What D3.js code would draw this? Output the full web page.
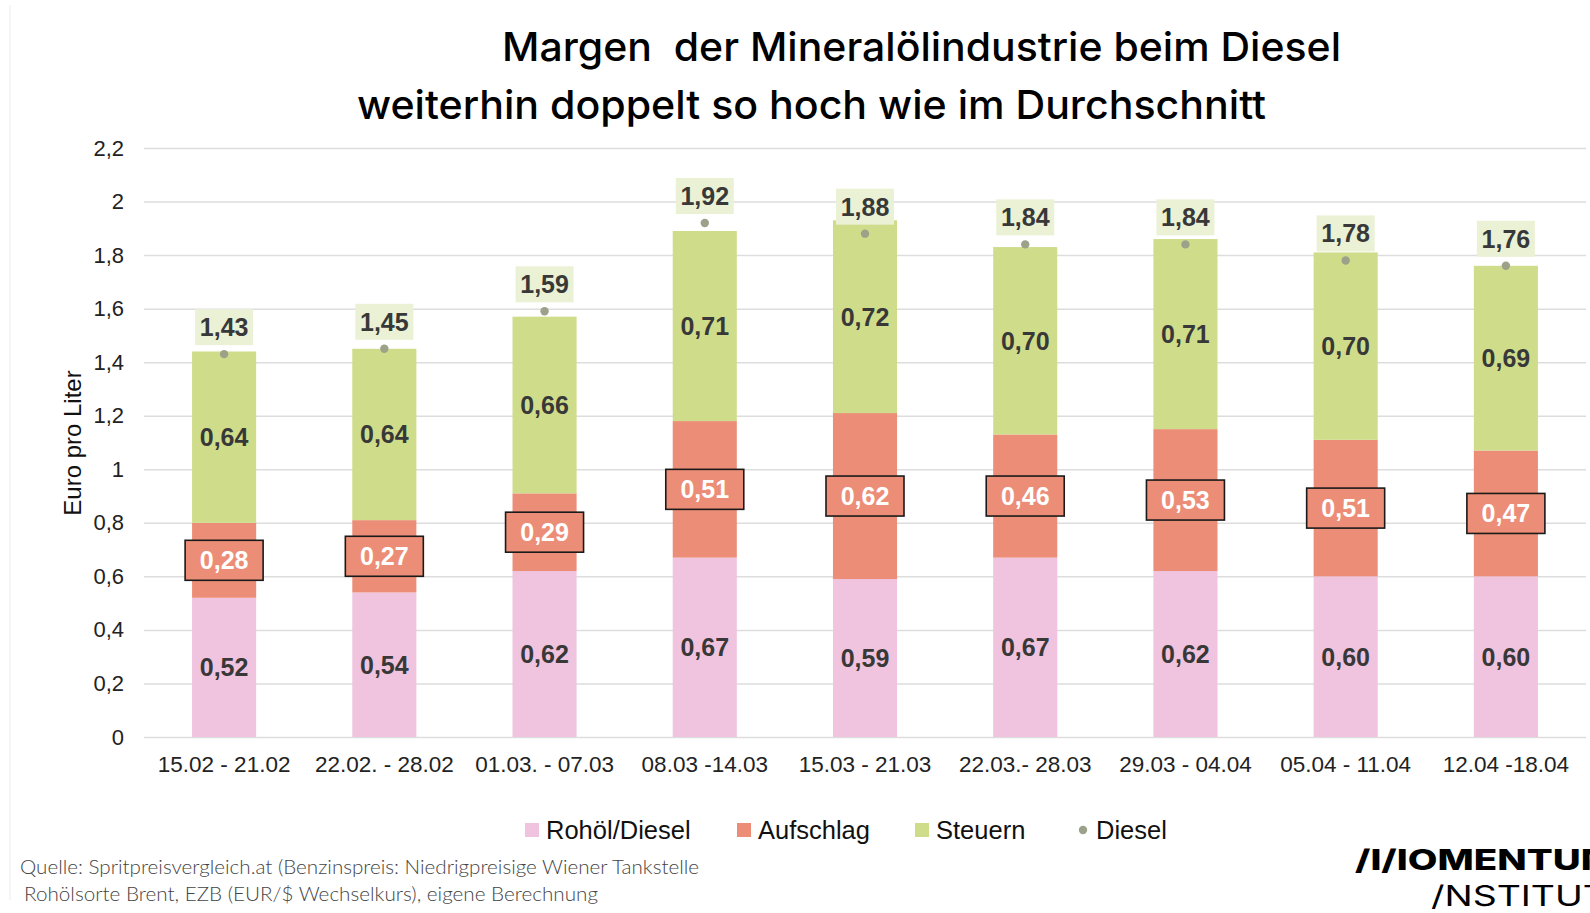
<!DOCTYPE html>
<html>
<head>
<meta charset="utf-8">
<script src="https://cdn.jsdelivr.net/npm/d3@7"></script>
<style>
  body { margin: 0; background: #fff; }
  svg { display: block; }
</style>
</head>
<body>
<div id="chart"></div>
<script>
// Daten
const weeks = ["15.02 - 21.02", "22.02. - 28.02", "01.03. - 07.03", "08.03 -14.03", "15.03 - 21.03",
               "22.03.- 28.03", "29.03 - 04.04", "05.04 - 11.04", "12.04 -18.04"];
const rohoel = [0.52, 0.54, 0.62, 0.67, 0.59, 0.67, 0.62, 0.60, 0.60];
const aufschlag = [0.28, 0.27, 0.29, 0.51, 0.62, 0.46, 0.53, 0.51, 0.47];
const steuern = [0.64, 0.64, 0.66, 0.71, 0.72, 0.70, 0.71, 0.70, 0.69];
const diesel = [1.43, 1.45, 1.59, 1.92, 1.88, 1.84, 1.84, 1.78, 1.76];
const yTicks = [0, 0.2, 0.4, 0.6, 0.8, 1, 1.2, 1.4, 1.6, 1.8, 2, 2.2];
const seriesNames = ["Rohöl/Diesel", "Aufschlag", "Steuern", "Diesel"];

const width = 1590;
const height = 913;

const colors = {
  "Rohöl/Diesel": "#f0c3de",
  "Aufschlag": "#ec8e77",
  "Steuern": "#cfdd8b",
  "Diesel": "#9ca28a"
};

const de = d3.formatLocale({ decimal: ",", thousands: ".", grouping: [3], currency: ["", "€"] });
const fmtTick = de.format(".2~f");
const fmtVal = de.format(".2f");

const svg = d3.select("#chart").append("svg")
  .attr("width", width)
  .attr("height", height);

// dünne Linie am linken Rand
svg.append("line")
  .attr("x1", 10).attr("x2", 10).attr("y1", 5).attr("y2", 900)
  .attr("stroke", "#f2f2f2").attr("stroke-width", 1.5);

// Skalen
const x = d3.scaleBand()
  .domain(weeks)
  .range([144, 1586])
  .paddingInner(0.6)
  .paddingOuter(0.3);

const y = d3.scaleLinear()
  .domain([0, 2.2])
  .range([737, 148]);

const labelFont = "'Liberation Sans', Arial, sans-serif";

// Gitterlinien + y-Achse
const yAxis = svg.append("g")
  .attr("transform", "translate(144,0)")
  .call(d3.axisLeft(y).tickValues(yTicks).tickFormat(fmtTick).tickSize(-(1586 - 144)).tickPadding(20));
yAxis.select(".domain").remove();
yAxis.selectAll(".tick line").attr("stroke", "#dddddd").attr("stroke-width", 1.5);
yAxis.selectAll(".tick text")
  .attr("font-family", labelFont)
  .attr("font-size", 22)
  .attr("fill", "#222");

svg.append("text")
  .attr("transform", "translate(81,443) rotate(-90)")
  .attr("text-anchor", "middle")
  .attr("font-family", labelFont)
  .attr("font-size", 24)
  .attr("fill", "#111")
  .text("Euro pro Liter");

// x-Achse Beschriftung
const xAxis = svg.append("g")
  .attr("transform", "translate(0,737)")
  .call(d3.axisBottom(x).tickSize(0).tickPadding(19));
xAxis.select(".domain").remove();
xAxis.selectAll(".tick text")
  .attr("font-family", labelFont)
  .attr("font-size", 22.5)
  .attr("fill", "#222");

// gestapelte Balken
const table = weeks.map((w, i) => ({
  week: w, "Rohöl/Diesel": rohoel[i], "Aufschlag": aufschlag[i], "Steuern": steuern[i]
}));
const stack = d3.stack().keys(seriesNames.slice(0, 3))(table);

const layers = svg.selectAll("g.layer")
  .data(stack)
  .join("g")
  .attr("class", "layer")
  .attr("fill", d => colors[d.key]);

layers.selectAll("rect")
  .data(d => d)
  .join("rect")
  .attr("x", d => x(d.data.week))
  .attr("width", x.bandwidth())
  .attr("y", d => y(d[1]))
  .attr("height", d => y(d[0]) - y(d[1]));

// Beschriftung Rohöl + Steuern
stack.filter(s => s.key !== "Aufschlag").forEach(s => {
  svg.append("g").selectAll("text")
    .data(s)
    .join("text")
    .attr("x", d => x(d.data.week) + x.bandwidth() / 2)
    .attr("y", d => y((d[0] + d[1]) / 2))
    .attr("dy", "0.36em")
    .attr("text-anchor", "middle")
    .attr("font-family", labelFont)
    .attr("font-weight", "bold")
    .attr("font-size", 25)
    .attr("fill", "#383838")
    .text(d => fmtVal(d[1] - d[0]));
});

// Aufschlag mit Rahmen
const aufG = svg.append("g").selectAll("g")
  .data(stack[1])
  .join("g")
  .attr("transform", d => `translate(${x(d.data.week) + x.bandwidth() / 2},${y((d[0] + d[1]) / 2)})`);
aufG.append("rect")
  .attr("x", -39).attr("y", -20).attr("width", 78).attr("height", 40)
  .attr("fill", colors["Aufschlag"])
  .attr("stroke", "#1a1a1a").attr("stroke-width", 1.6);
aufG.append("text")
  .attr("text-anchor", "middle")
  .attr("dy", "0.36em")
  .attr("font-family", labelFont)
  .attr("font-weight", "bold")
  .attr("font-size", 25)
  .attr("fill", "#fff")
  .text(d => fmtVal(d[1] - d[0]));

// Dieselpreis Punkte + Werte
const dG = svg.append("g").selectAll("g")
  .data(weeks.map((w, i) => ({ week: w, value: diesel[i] })))
  .join("g")
  .attr("transform", d => `translate(${x(d.week) + x.bandwidth() / 2},${y(d.value)})`);
dG.append("circle")
  .attr("r", 4.2)
  .attr("fill", colors["Diesel"]);
dG.append("rect")
  .attr("x", -29).attr("y", -45).attr("width", 58).attr("height", 36)
  .attr("fill", "#ebf1d5");
dG.append("text")
  .attr("text-anchor", "middle")
  .attr("y", -27)
  .attr("dy", "0.36em")
  .attr("font-family", labelFont)
  .attr("font-weight", "bold")
  .attr("font-size", 25)
  .attr("fill", "#383838")
  .text(d => fmtVal(d.value));

// Legende
const legendX = [525, 737, 915, 1081];
const legend = svg.append("g").selectAll("g")
  .data(seriesNames)
  .join("g")
  .attr("transform", (d, i) => `translate(${legendX[i]},830)`);
legend.filter(d => d !== "Diesel").append("rect")
  .attr("x", 0).attr("y", -7).attr("width", 14).attr("height", 14)
  .attr("fill", d => colors[d]);
legend.filter(d => d === "Diesel").append("circle")
  .attr("cx", 2).attr("r", 4.2)
  .attr("fill", colors["Diesel"]);
legend.append("text")
  .attr("x", d => d === "Diesel" ? 15 : 21)
  .attr("dy", "0.36em")
  .attr("font-family", labelFont)
  .attr("font-size", 25.5)
  .attr("fill", "#111")
  .text(d => d);

// Titel
const titleFont = "Inter, 'Noto Sans', sans-serif";
svg.append("text")
  .attr("x", 502).attr("y", 61)
  .attr("font-family", titleFont).attr("font-weight", 500).attr("font-size", 40)
  .attr("fill", "#000")
  .attr("textLength", 839).attr("lengthAdjust", "spacingAndGlyphs")
  .attr("xml:space", "preserve")
  .text("Margen  der Mineralölindustrie beim Diesel");
svg.append("text")
  .attr("x", 357).attr("y", 119)
  .attr("font-family", titleFont).attr("font-weight", 500).attr("font-size", 40)
  .attr("fill", "#000")
  .attr("textLength", 909).attr("lengthAdjust", "spacingAndGlyphs")
  .text("weiterhin doppelt so hoch wie im Durchschnitt");

// Quelle
const srcFont = "Lato, 'Open Sans', sans-serif";
svg.append("text")
  .attr("x", 20).attr("y", 874)
  .attr("font-family", srcFont).attr("font-weight", 300).attr("font-size", 19)
  .attr("fill", "#444")
  .attr("textLength", 679).attr("lengthAdjust", "spacingAndGlyphs")
  .text("Quelle: Spritpreisvergleich.at (Benzinspreis: Niedrigpreisige Wiener Tankstelle");
svg.append("text")
  .attr("x", 24).attr("y", 901)
  .attr("font-family", srcFont).attr("font-weight", 300).attr("font-size", 19)
  .attr("fill", "#444")
  .attr("textLength", 574).attr("lengthAdjust", "spacingAndGlyphs")
  .text("Rohölsorte Brent, EZB (EUR/$ Wechselkurs), eigene Berechnung");

// Logo (rechts abgeschnitten wie im Original)
svg.append("text")
  .attr("x", 1355).attr("y", 870)
  .attr("font-family", "Inter, 'Noto Sans', sans-serif").attr("font-weight", 800).attr("font-size", 28)
  .attr("fill", "#000")
  .attr("textLength", 262).attr("lengthAdjust", "spacingAndGlyphs")
  .text("/I/IOMENTUM");
svg.append("text")
  .attr("x", 1431).attr("y", 906)
  .attr("font-family", "Inter, 'Noto Sans', sans-serif").attr("font-weight", 400).attr("font-size", 28)
  .attr("fill", "#000")
  .attr("textLength", 176).attr("lengthAdjust", "spacingAndGlyphs")
  .text("/NSTITUT");
</script>
</body>
</html>
